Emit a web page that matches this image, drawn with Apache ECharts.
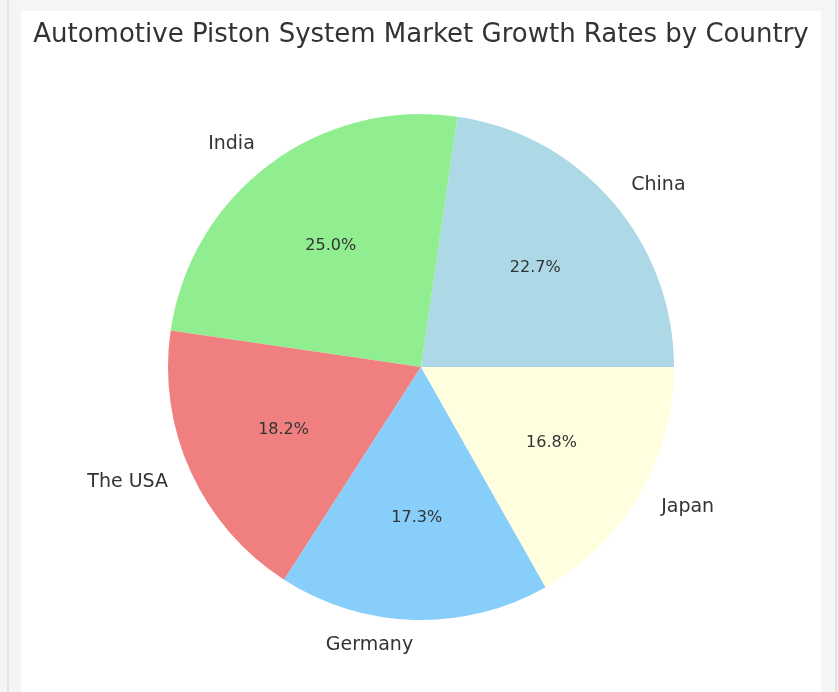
<!DOCTYPE html>
<html>
<head>
<meta charset="utf-8">
<script src="https://cdn.jsdelivr.net/npm/echarts@6/dist/echarts.min.js"></script>
<style>
  html, body { margin: 0; padding: 0; background: #f5f5f5; }
  .frame {
    position: absolute; left: 7px; top: 0; width: 826px; height: 692px;
    border-left: 2px solid #e2e2e2; border-right: 2px solid #e2e2e2;
    background: #f5f5f5;
  }
  #chart {
    position: absolute; left: 21px; top: 11px; width: 800px; height: 681px;
    background: #ffffff;
  }
</style>
</head>
<body>
<div class="frame"></div>
<div id="chart"></div>
<script>
// Growth rate shares by country
const countries = ["China", "India", "The USA", "Germany", "Japan"];
const shares = [22.7, 25.0, 18.2, 17.3, 16.8];
const colors = ["#add8e6", "#90ee90", "#f08080", "#87cefa", "#ffffe0"];

const R = 253;
const font = "DejaVu Sans";

let chart = echarts.init(document.getElementById("chart"));

let pieData = countries.map((name, i) => ({
  name: name,
  value: shares[i],
  itemStyle: { color: colors[i] }
}));

chart.setOption({
  animation: false,
  title: {
    text: "Automotive Piston System Market Growth Rates by Country",
    left: "center",
    top: 6,
    textStyle: { fontFamily: font, fontSize: 26, fontWeight: "normal", color: "#333333" }
  },
  series: [
    {
      type: "pie",
      center: [400, 356],
      radius: [0, R],
      startAngle: 0,
      clockwise: false,
      silent: true,
      data: pieData,
      label: {
        show: true,
        position: "outside",
        formatter: "{b}",
        fontFamily: font,
        fontSize: 19,
        color: "#333333",
        distanceToLabelLine: 0
      },
      labelLine: { show: false, length: 25, length2: 0 },
      labelLayout: { hideOverlap: false }
    },
    {
      // transparent ring, only used to put the percent labels near 0.6 radius
      type: "pie",
      center: [400, 356],
      radius: [R * 0.485, R * 0.685],
      startAngle: 0,
      clockwise: false,
      silent: true,
      data: countries.map((name, i) => ({ name: name, value: shares[i] })),
      itemStyle: { color: "rgba(0,0,0,0)" },
      label: {
        show: true,
        position: "inside",
        formatter: (p) => p.value.toFixed(1) + "%",
        fontFamily: font,
        fontSize: 16,
        color: "#333333"
      },
      labelLine: { show: false }
    }
  ]
});
</script>
</body>
</html>
